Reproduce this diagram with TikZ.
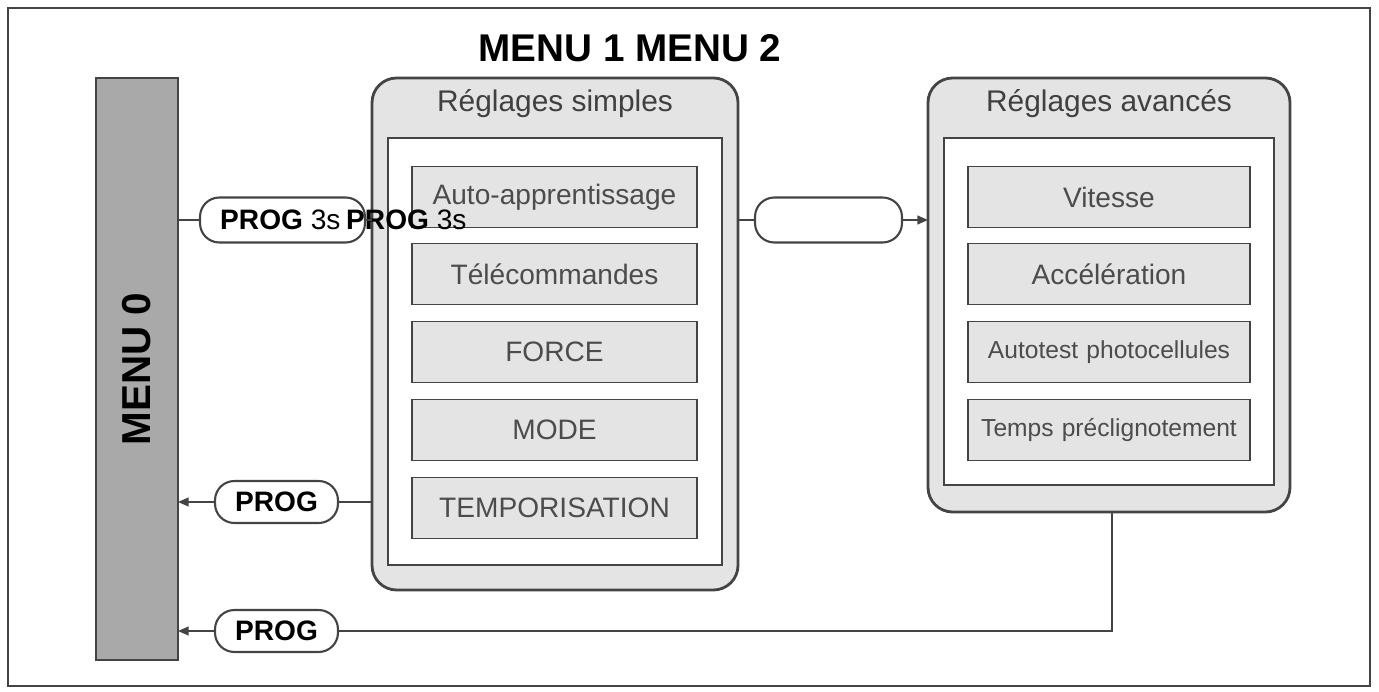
\documentclass[tikz,border=0pt]{standalone}
\usepackage{fontspec}
\setmainfont{Liberation Sans}
\usetikzlibrary{arrows.meta}
\definecolor{boxgray}{HTML}{E4E4E4}
\definecolor{bargray}{HTML}{A9A9A9}
\definecolor{linegray}{HTML}{444444}
\tikzset{
  panel/.style={draw=linegray, line width=1.6pt, rounded corners=14pt, fill=boxgray},
  inner/.style={draw=linegray, line width=0.8pt, fill=white},
  item/.style={draw=linegray, line width=1pt, fill=boxgray, inner sep=0pt, align=center,
    minimum height=1.22cm, font=\fontsize{16}{19}\selectfont\color{black!70}},
  pill/.style={draw=linegray, line width=1.2pt, rounded corners=11pt, fill=white},
  conn/.style={draw=linegray, line width=0.9pt},
  arr/.style={conn, -{Triangle[length=6pt,width=5pt]}},
}
\begin{document}
\begin{tikzpicture}[x=0.02cm, y=-0.02cm]
\useasboundingbox (0,0) rectangle (1379,692);
\draw[linegray, line width=1.5pt] (8,8) rectangle (1370,686);
% menu 0
\draw[conn, fill=bargray] (96,78) rectangle (178,660);
\node[rotate=90, font=\bfseries\fontsize{23}{27}\selectfont] (m0) at (137,369) {MENU 0};
\node[font=\bfseries\fontsize{22}{26}\selectfont] (title) at (630,48) {MENU 1 MENU 2};
% menu 1
\draw[panel] (372,78) rectangle (738,590);
\node[font=\fontsize{17}{20}\selectfont\color{black!75}] (t1) at (555,104) {Réglages simples};
\draw[inner] (388,138) rectangle (722,565);
\foreach \y/\txt in {197/Auto-apprentissage, 274/Télécommandes, 352/FORCE, 430/MODE, 508/TEMPORISATION}
  \node[item, text width=5.7cm] at (554.5,\y) {\txt};
% menu 2
\draw[panel] (928,78) rectangle (1290,512);
\node[font=\fontsize{17}{20}\selectfont\color{black!75}] (t2) at (1109,104) {Réglages avancés};
\draw[inner] (944,138) rectangle (1274,485);
\foreach \y/\txt in {197/Vitesse, 274/Accélération}
  \node[item, text width=5.64cm] at (1109,\y) {\txt};
\foreach \y/\txt in {352/Autotest photocellules, 430/Temps préclignotement}
  \node[item, text width=5.64cm, font=\fontsize{14}{17}\selectfont\color{black!70}] at (1109,\y) {\txt};
% connectors
\node[pill, minimum width=3.3cm, minimum height=0.9cm] (p1) at (282.5,220) {};
\node[anchor=west, font=\fontsize{16}{19}\selectfont] (l1) at (214,220) {\textbf{PROG} 3s};
\node[anchor=west, font=\fontsize{16}{19}\selectfont] (l1b) at (340,220) {\textbf{PROG} 3s};
\draw[conn] (178,220) -- (p1.west);
\draw[conn] (p1.east) -- (372,220);
\node[pill, minimum width=2.94cm, minimum height=0.9cm] (p2) at (828.5,220) {};
\draw[conn] (738,220) -- (p2.west);
\draw[arr] (p2.east) -- (928,220);
\node[pill, minimum width=2.46cm, minimum height=0.84cm, font=\bfseries\fontsize{16}{19}\selectfont] (p3) at (276.5,502) {PROG};
\draw[conn] (372,502) -- (p3.east);
\draw[arr] (p3.west) -- (178,502);
\node[pill, minimum width=2.46cm, minimum height=0.84cm, font=\bfseries\fontsize{16}{19}\selectfont] (p4) at (276.5,631) {PROG};
\draw[conn] (1112,512) |- (p4.east);
\draw[arr] (p4.west) -- (178,631);
\end{tikzpicture}
\end{document}
